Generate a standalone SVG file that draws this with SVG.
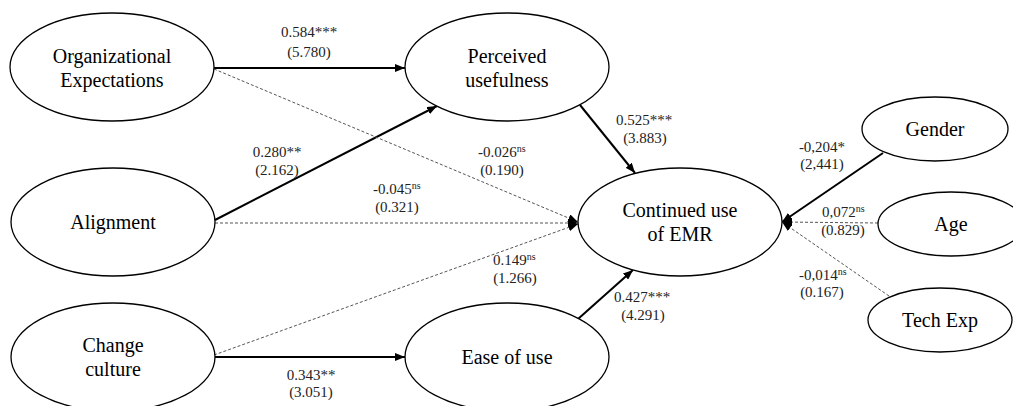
<svg xmlns="http://www.w3.org/2000/svg" width="1013" height="406" viewBox="0 0 1013 406" font-family="'Liberation Serif', 'DejaVu Serif', serif">
<style>
.node ellipse{fill:#fff;stroke:#000;stroke-width:1.3}
.node text{font-size:20px;fill:#000;text-anchor:middle}
.solid{stroke:#000;stroke-width:2;fill:none}
.dash{stroke:#555;stroke-width:1;stroke-dasharray:3 2;fill:none}
.lbl{font-size:15px;fill:#222}
.m{text-anchor:middle}
.sup{font-size:10px}
</style>
<defs>
<marker id="ah" viewBox="0 0 10 8" refX="10" refY="4" markerWidth="10" markerHeight="8" markerUnits="userSpaceOnUse" orient="auto">
<path d="M0,0 L10,4 L0,8 Z" fill="#000"/>
</marker>
</defs>
<rect width="1013" height="406" fill="#fff"/>
<g id="connectors">
<line class="solid" x1="214" y1="68" x2="405" y2="68" marker-end="url(#ah)"/>
<line class="solid" x1="215" y1="220" x2="437" y2="106" marker-end="url(#ah)"/>
<line class="solid" x1="580" y1="105" x2="635" y2="173" marker-end="url(#ah)"/>
<line class="solid" x1="578" y1="319" x2="633" y2="270" marker-end="url(#ah)"/>
<line class="solid" x1="215" y1="357" x2="405" y2="357" marker-end="url(#ah)"/>
<line class="dash" x1="214" y1="69" x2="578" y2="222" marker-end="url(#ah)"/>
<line class="dash" x1="215" y1="223" x2="578" y2="223" marker-end="url(#ah)"/>
<line class="dash" x1="214" y1="355" x2="578" y2="224" marker-end="url(#ah)"/>
<line class="solid" x1="883" y1="153" x2="782" y2="222" marker-end="url(#ah)"/>
<line class="dash" x1="878" y1="223" x2="782" y2="222" marker-end="url(#ah)"/>
<line class="dash" x1="889" y1="296" x2="782" y2="222" marker-end="url(#ah)"/>
</g>
<g id="labels" font-family="'Liberation Serif', 'DejaVu Serif', serif">
<text class="lbl m" x="309" y="37">0.584***</text>
<text class="lbl m" x="309" y="57">(5.780)</text>
<text class="lbl m" x="277" y="157">0.280**</text>
<text class="lbl m" x="277" y="175">(2.162)</text>
<text class="lbl" x="478" y="157">-0.026<tspan class="sup" dy="-5">ns</tspan></text>
<text class="lbl m" x="502" y="175">(0.190)</text>
<text class="lbl" x="373" y="194">-0.045<tspan class="sup" dy="-5">ns</tspan></text>
<text class="lbl m" x="397" y="212">(0.321)</text>
<text class="lbl m" x="644" y="125">0.525***</text>
<text class="lbl m" x="645" y="143">(3.883)</text>
<text class="lbl" x="493" y="265">0.149<tspan class="sup" dy="-5">ns</tspan></text>
<text class="lbl m" x="515" y="283">(1.266)</text>
<text class="lbl m" x="642" y="302">0.427***</text>
<text class="lbl m" x="643" y="320">(4.291)</text>
<text class="lbl m" x="311" y="380">0.343**</text>
<text class="lbl m" x="311" y="397">(3.051)</text>
<text class="lbl m" x="822" y="152">-0,204*</text>
<text class="lbl m" x="822" y="169">(2,441)</text>
<text class="lbl" x="822" y="217">0,072<tspan class="sup" dy="-5">ns</tspan></text>
<text class="lbl m" x="843" y="235">(0.829)</text>
<text class="lbl" x="799" y="280">-0,014<tspan class="sup" dy="-5">ns</tspan></text>
<text class="lbl m" x="822" y="297">(0.167)</text>
</g>
<g id="org-expectations" class="node">
<ellipse cx="112" cy="67" rx="102" ry="54"/>
<text x="112" y="63">Organizational</text>
<text x="112" y="87">Expectations</text>
</g>
<g id="perceived-usefulness" class="node">
<ellipse cx="507" cy="67" rx="102" ry="54"/>
<text x="507" y="63">Perceived</text>
<text x="507" y="87">usefulness</text>
</g>
<g id="alignment" class="node">
<ellipse cx="113" cy="222" rx="102" ry="54"/>
<text x="113" y="229">Alignment</text>
</g>
<g id="change-culture" class="node">
<ellipse cx="113" cy="357" rx="102" ry="54"/>
<text x="113" y="352">Change</text>
<text x="113" y="376">culture</text>
</g>
<g id="ease-of-use" class="node">
<ellipse cx="507" cy="357" rx="102" ry="54"/>
<text x="507" y="364">Ease of use</text>
</g>
<g id="continued-use" class="node">
<ellipse cx="680" cy="222" rx="102" ry="54"/>
<text x="680" y="217">Continued use</text>
<text x="680" y="241">of EMR</text>
</g>
<g id="gender" class="node">
<ellipse cx="935" cy="129" rx="73" ry="32"/>
<text x="935" y="136">Gender</text>
</g>
<g id="age" class="node">
<ellipse cx="951" cy="224" rx="73" ry="32"/>
<text x="951" y="231">Age</text>
</g>
<g id="tech-exp" class="node">
<ellipse cx="940" cy="320" rx="72" ry="32"/>
<text x="940" y="327">Tech Exp</text>
</g>
</svg>
